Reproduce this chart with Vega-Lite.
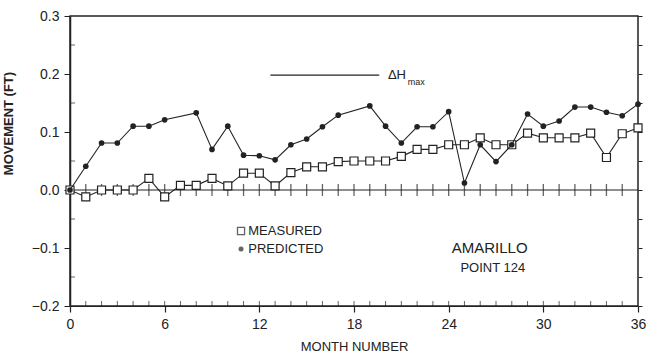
{
  "$schema": "https://vega.github.io/schema/vega-lite/v6.json",
  "width": 568,
  "height": 290,
  "autosize": "none",
  "padding": {"left": 70, "top": 16, "right": 9, "bottom": 56},
  "background": "white",
  "config": {
    "view": {"stroke": "#222", "strokeWidth": 1.5},
    "font": "Liberation Sans",
    "axis": {"domainColor": "#222", "tickColor": "#222", "labelColor": "#222", "titleColor": "#222", "grid": false}
  },
  "datasets": {
    "measured": [
      {"month": 0, "value": 0.0}, {"month": 1, "value": -0.012}, {"month": 2, "value": 0.0}, {"month": 3, "value": 0.0},
      {"month": 4, "value": 0.0}, {"month": 5, "value": 0.02}, {"month": 6, "value": -0.012}, {"month": 7, "value": 0.008},
      {"month": 8, "value": 0.008}, {"month": 9, "value": 0.02}, {"month": 10, "value": 0.007}, {"month": 11, "value": 0.029},
      {"month": 12, "value": 0.029}, {"month": 13, "value": 0.007}, {"month": 14, "value": 0.03}, {"month": 15, "value": 0.04},
      {"month": 16, "value": 0.04}, {"month": 17, "value": 0.049}, {"month": 18, "value": 0.05}, {"month": 19, "value": 0.05},
      {"month": 20, "value": 0.05}, {"month": 21, "value": 0.058}, {"month": 22, "value": 0.07}, {"month": 23, "value": 0.07},
      {"month": 24, "value": 0.078}, {"month": 25, "value": 0.078}, {"month": 26, "value": 0.09}, {"month": 27, "value": 0.078},
      {"month": 28, "value": 0.078}, {"month": 29, "value": 0.098}, {"month": 30, "value": 0.09}, {"month": 31, "value": 0.09},
      {"month": 32, "value": 0.09}, {"month": 33, "value": 0.098}, {"month": 34, "value": 0.056}, {"month": 35, "value": 0.097},
      {"month": 36, "value": 0.107}
    ],
    "predicted": [
      {"month": 0, "value": 0.0}, {"month": 1, "value": 0.041}, {"month": 2, "value": 0.081}, {"month": 3, "value": 0.081},
      {"month": 4, "value": 0.11}, {"month": 5, "value": 0.11}, {"month": 6, "value": 0.121}, {"month": 8, "value": 0.133},
      {"month": 9, "value": 0.07}, {"month": 10, "value": 0.11}, {"month": 11, "value": 0.06}, {"month": 12, "value": 0.059},
      {"month": 13, "value": 0.052}, {"month": 14, "value": 0.078}, {"month": 15, "value": 0.088}, {"month": 16, "value": 0.109},
      {"month": 17, "value": 0.129}, {"month": 19, "value": 0.145}, {"month": 20, "value": 0.11}, {"month": 21, "value": 0.081},
      {"month": 22, "value": 0.109}, {"month": 23, "value": 0.109}, {"month": 24, "value": 0.135}, {"month": 25, "value": 0.012},
      {"month": 26, "value": 0.078}, {"month": 27, "value": 0.049}, {"month": 28, "value": 0.078}, {"month": 29, "value": 0.131},
      {"month": 30, "value": 0.11}, {"month": 31, "value": 0.119}, {"month": 32, "value": 0.143}, {"month": 33, "value": 0.143},
      {"month": 34, "value": 0.134}, {"month": 35, "value": 0.128}, {"month": 36, "value": 0.148}
    ],
    "months": [
      {"month": 1}, {"month": 2}, {"month": 3}, {"month": 4}, {"month": 5}, {"month": 6}, {"month": 7}, {"month": 8},
      {"month": 9}, {"month": 10}, {"month": 11}, {"month": 12}, {"month": 13}, {"month": 14}, {"month": 15}, {"month": 16},
      {"month": 17}, {"month": 18}, {"month": 19}, {"month": 20}, {"month": 21}, {"month": 22}, {"month": 23}, {"month": 24},
      {"month": 25}, {"month": 26}, {"month": 27}, {"month": 28}, {"month": 29}, {"month": 30}, {"month": 31}, {"month": 32},
      {"month": 33}, {"month": 34}, {"month": 35}
    ],
    "minorY": [
      {"v": -0.15}, {"v": -0.05}, {"v": 0.05}, {"v": 0.15}, {"v": 0.25}
    ]
  },
  "layer": [
    {
      "data": {"values": [{"value": 0}]},
      "mark": {"type": "rule", "color": "#222", "strokeWidth": 1.2},
      "encoding": {
        "y": {"field": "value", "type": "quantitative", "scale": {"domain": [-0.2, 0.3], "nice": false, "zero": false},
          "axis": {"orient": "right", "labels": false, "title": null, "domain": false,
            "values": [-0.2, -0.15, -0.1, -0.05, 0, 0.05, 0.1, 0.15, 0.2, 0.25, 0.3], "tickSize": 4, "tickWidth": 1}}
      }
    },
    {
      "data": {"name": "months"},
      "transform": [{"calculate": "0", "as": "zero"}],
      "mark": {"type": "tick", "orient": "vertical", "color": "#222", "size": 12, "thickness": 1.3},
      "encoding": {
        "x": {"field": "month", "type": "quantitative", "scale": {"domain": [0, 36], "nice": false, "zero": false},
          "axis": {"values": [0, 6, 12, 18, 24, 30, 36], "labelOverlap": false,
            "tickSize": 6, "tickWidth": 1.2, "labelFontSize": 14, "labelPadding": 5, "labelFlush": false,
            "title": "MONTH NUMBER", "titleFontSize": 13, "titleFontWeight": "normal", "titlePadding": 9}},
        "y": {"field": "zero", "type": "quantitative", "axis": null}
      }
    },
    {
      "data": {"name": "months"},
      "transform": [{"calculate": "-0.2", "as": "bottom"}],
      "mark": {"type": "tick", "orient": "vertical", "color": "#222", "size": 5, "thickness": 1, "yOffset": -2.5},
      "encoding": {
        "x": {"field": "month", "type": "quantitative"},
        "y": {"field": "bottom", "type": "quantitative", "axis": null}
      }
    },
    {
      "data": {"name": "minorY"},
      "transform": [{"calculate": "0", "as": "left"}],
      "mark": {"type": "tick", "orient": "horizontal", "color": "#222", "size": 5, "thickness": 1, "xOffset": 2.5},
      "encoding": {
        "x": {"field": "left", "type": "quantitative"},
        "y": {"field": "v", "type": "quantitative", "axis": null}
      }
    },
    {
      "data": {"name": "measured"},
      "mark": {"type": "line", "color": "#222", "strokeWidth": 1.1,
        "point": {"shape": "square", "filled": true, "fill": "white", "stroke": "#222", "strokeWidth": 1.2, "size": 64}},
      "encoding": {
        "x": {"field": "month", "type": "quantitative"},
        "y": {"field": "value", "type": "quantitative", "axis": null}
      }
    },
    {
      "data": {"name": "predicted"},
      "mark": {"type": "line", "color": "#222", "strokeWidth": 1.1,
        "point": {"shape": "circle", "filled": true, "fill": "#222", "size": 32}},
      "encoding": {
        "x": {"field": "month", "type": "quantitative"},
        "y": {"field": "value", "type": "quantitative",
          "axis": {"orient": "left", "values": [-0.2, -0.1, 0, 0.1, 0.2, 0.3], "format": ".1f",
            "labelOverlap": false, "tickSize": 6, "labelFontSize": 14, "labelPadding": 5, "domainWidth": 1.5,
            "title": "MOVEMENT (FT)", "titleFontSize": 13, "titleFontWeight": "bold", "titleX": -55, "titleY": 107}}
      }
    },
    {
      "data": {"values": [{"x1": 12.7, "x2": 19.6, "y": 0.198}]},
      "mark": {"type": "rule", "color": "#222", "strokeWidth": 1.2},
      "encoding": {
        "x": {"field": "x1", "type": "quantitative"},
        "x2": {"field": "x2"},
        "y": {"field": "y", "type": "quantitative", "axis": null}
      }
    },
    {
      "data": {"values": [
        {"x": 20.15, "y": 0.198, "label": "ΔH", "size": 13},
        {"x": 21.4, "y": 0.187, "label": "max", "size": 9},
        {"x": 11.3, "y": -0.0707, "label": "MEASURED", "size": 13},
        {"x": 11.3, "y": -0.1017, "label": "PREDICTED", "size": 13}
      ]},
      "mark": {"type": "text", "align": "left", "baseline": "middle", "color": "#222"},
      "encoding": {
        "x": {"field": "x", "type": "quantitative"},
        "y": {"field": "y", "type": "quantitative", "axis": null},
        "text": {"field": "label"},
        "size": {"field": "size", "type": "quantitative", "scale": null}
      }
    },
    {
      "data": {"values": [
        {"x": 26.6, "y": -0.1, "label": "AMARILLO", "size": 15},
        {"x": 26.8, "y": -0.134, "label": "POINT 124", "size": 13}
      ]},
      "mark": {"type": "text", "align": "center", "baseline": "middle", "color": "#222"},
      "encoding": {
        "x": {"field": "x", "type": "quantitative"},
        "y": {"field": "y", "type": "quantitative", "axis": null},
        "text": {"field": "label"},
        "size": {"field": "size", "type": "quantitative", "scale": null}
      }
    },
    {
      "data": {"values": [{"x": 10.84, "y": -0.0707}]},
      "mark": {"type": "point", "shape": "square", "filled": true, "fill": "white", "stroke": "#222", "strokeWidth": 1.3, "size": 50},
      "encoding": {
        "x": {"field": "x", "type": "quantitative"},
        "y": {"field": "y", "type": "quantitative", "axis": null}
      }
    },
    {
      "data": {"values": [{"x": 10.84, "y": -0.1017}]},
      "mark": {"type": "point", "shape": "circle", "filled": true, "fill": "#222", "size": 25},
      "encoding": {
        "x": {"field": "x", "type": "quantitative"},
        "y": {"field": "y", "type": "quantitative", "axis": null}
      }
    }
  ],
  "resolve": {"axis": {"y": "independent"}}
}
